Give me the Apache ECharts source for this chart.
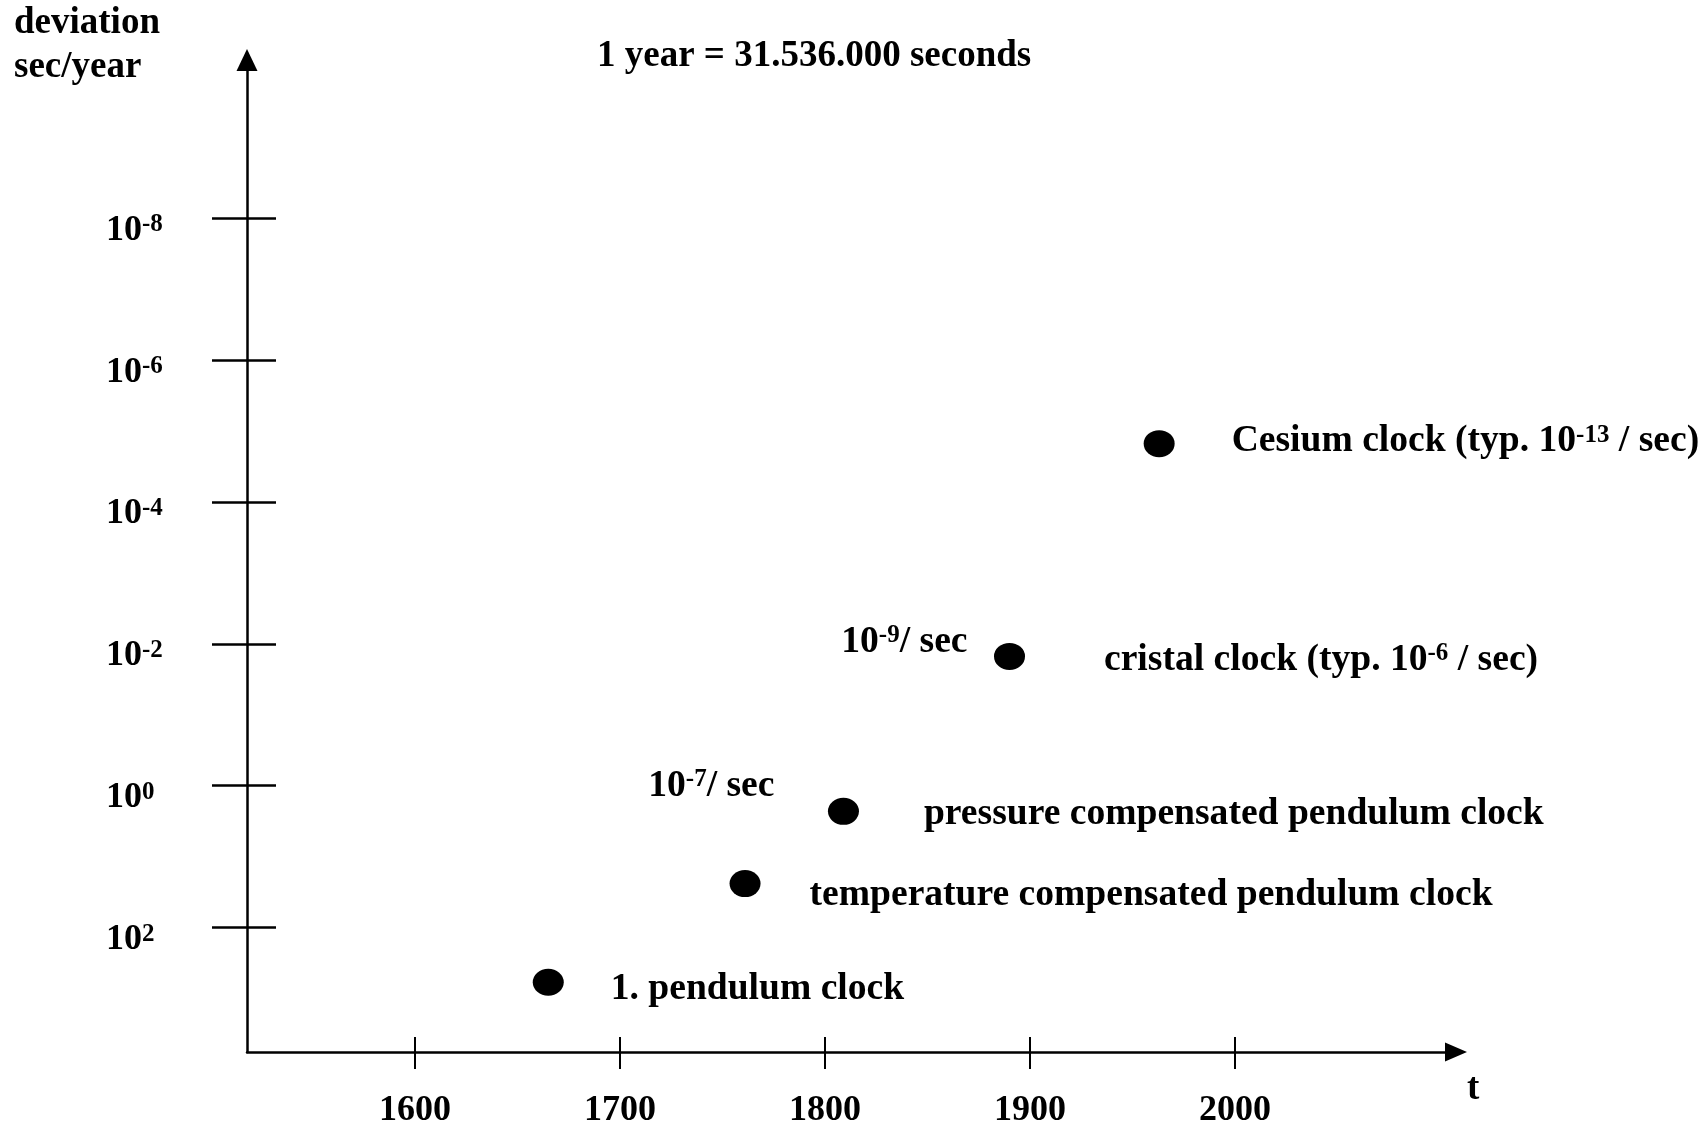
<!DOCTYPE html>
<html><head><meta charset="utf-8">
<script src="https://cdn.jsdelivr.net/npm/echarts@6/dist/echarts.min.js"></script>
<style>html,body{margin:0;padding:0;background:#fff}#c{width:1698px;height:1131px}</style>
</head><body><div id="c"></div>
<script>
// ---- data ----
const clockNames = [
  '1. pendulum clock',
  'temperature compensated pendulum clock',
  'pressure compensated pendulum clock',
  'cristal clock (typ. 10{sup|-6} / sec)',
  'Cesium clock (typ. 10{sup|-13} / sec)'
];
const years = [1665, 1761, 1809, 1890, 1963];
const deviations = [590, 24, 2.3, 0.015, 0.000015]; // sec/year
const rateNotes = ['', '', '10{sup|-7}/ sec', '10{sup|-9}/ sec', ''];
const yTickExponents = [-8, -6, -4, -2, 0, 2];
const xTickYears = [1600, 1700, 1800, 1900, 2000];
const headerText = '1 year = 31.536.000 seconds';
const yAxisTitle = 'deviation\nsec/year';
const xAxisTitle = 't';

// ---- styles / layout ----
const FONT = '"Liberation Serif", "Times New Roman", serif';
const BLACK = '#000';
const supStyle = { fontFamily: FONT, fontWeight: 'bold', fontSize: 25, color: BLACK, verticalAlign: 'top', lineHeight: 20 };
const baseText = { fontFamily: FONT, fontWeight: 'bold', color: BLACK };
const ELLIPSE = 'path://M0,10A10,10,0,1,1,20,10A10,10,0,1,1,0,10Z';
const nameLabelLayout = [
  { distance: 47, offset: [0, 7] },
  { distance: 49, offset: [0, 12] },
  { distance: 65, offset: [0, 3] },
  { distance: 79, offset: [0, 4] },
  { distance: 57, offset: [0, -2] }
];
const noteLabelLayout = [null, null,
  { distance: 69, offset: [0, -25] },
  { distance: 42, offset: [0, -14] },
  null];

const X_MIN = 1518.05, X_MAX = 2107.8;
const Y_MIN = -10.234, Y_MAX = 3.755;

const axisLineStyle = { color: BLACK, width: 2.5 };
const tickLineStyle = { color: BLACK, width: 2.5 };

const mainData = years.map((yr, i) => ({
  value: [yr, Math.log10(deviations[i])],
  label: nameLabelLayout[i]
}));
const noteData = [];
years.forEach((yr, i) => {
  if (rateNotes[i]) noteData.push({ value: [yr, Math.log10(deviations[i])], note: rateNotes[i], label: noteLabelLayout[i] });
});

const chart = echarts.init(document.getElementById('c'), null, { renderer: 'canvas' });
chart.setOption({
  animation: false,
  backgroundColor: '#fff',
  title: [
    { text: yAxisTitle, left: 14, top: 1, padding: 0,
      textStyle: Object.assign({}, baseText, { fontSize: 37, lineHeight: 44 }) },
    { text: headerText, left: 597, top: 38, padding: 0,
      textStyle: Object.assign({}, baseText, { fontSize: 37 }) },
    { text: xAxisTitle, left: 1467, top: 1071, padding: 0,
      textStyle: Object.assign({}, baseText, { fontSize: 37 }) }
  ],
  grid: { left: 247, top: 60, right: 242, bottom: 79, containLabel: false, outerBoundsMode: 'none' },
  xAxis: [{
    type: 'value', min: X_MIN, max: X_MAX, position: 'bottom',
    axisLine: { show: true, onZero: false, lineStyle: axisLineStyle, symbol: ['none', 'triangle'], symbolSize: [19, 22] },
    axisTick: { show: true, inside: false, length: 17, lineStyle: { color: BLACK, width: 2 }, customValues: xTickYears },
    axisLabel: Object.assign({ customValues: xTickYears, margin: 41, fontSize: 36, formatter: v => String(v) }, baseText),
    splitLine: { show: false }
  }, {
    type: 'value', min: X_MIN, max: X_MAX, position: 'bottom',
    axisLine: { show: false, onZero: false },
    axisTick: { show: true, inside: true, length: 15, lineStyle: { color: BLACK, width: 2 }, customValues: xTickYears },
    axisLabel: { show: false }, splitLine: { show: false }
  }],
  yAxis: [{
    type: 'value', inverse: true, min: Y_MIN, max: Y_MAX, position: 'left',
    axisLine: { show: true, onZero: false, lineStyle: axisLineStyle, symbol: ['none', 'triangle'], symbolSize: [21, 22] },
    axisTick: { show: true, inside: false, length: 35, lineStyle: tickLineStyle, customValues: yTickExponents },
    axisLabel: Object.assign({
      customValues: yTickExponents, margin: 141, align: 'left', fontSize: 36, padding: [24, 0, 0, 0],
      formatter: v => '10{sup|' + v + '}',
      rich: { sup: supStyle }
    }, baseText),
    splitLine: { show: false }
  }, {
    type: 'value', inverse: true, min: Y_MIN, max: Y_MAX, position: 'left',
    axisLine: { show: false, onZero: false },
    axisTick: { show: true, inside: true, length: 29, lineStyle: tickLineStyle, customValues: yTickExponents },
    axisLabel: { show: false }, splitLine: { show: false }
  }],
  series: [{
    type: 'scatter', xAxisIndex: 0, yAxisIndex: 0, silent: true,
    symbol: ELLIPSE, symbolSize: [31, 27],
    itemStyle: { color: BLACK, opacity: 1 },
    data: mainData,
    label: Object.assign({
      show: true, position: 'right', fontSize: 37.6, opacity: 1,
      formatter: p => clockNames[p.dataIndex],
      rich: { sup: supStyle }
    }, baseText)
  }, {
    type: 'scatter', xAxisIndex: 0, yAxisIndex: 0, silent: true,
    symbolSize: 0.01, itemStyle: { color: 'rgba(0,0,0,0)', opacity: 1 },
    data: noteData,
    label: Object.assign({
      show: true, position: 'left', fontSize: 37.6, opacity: 1,
      formatter: p => p.data.note,
      rich: { sup: supStyle }
    }, baseText)
  }]
});
</script>
</body></html>
